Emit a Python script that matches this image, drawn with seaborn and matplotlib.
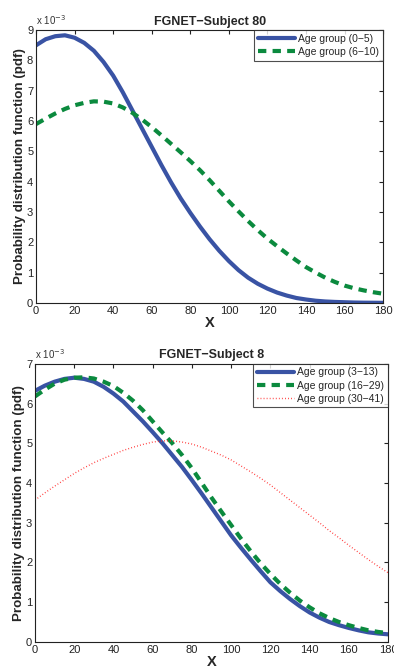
import numpy as np
import pandas as pd
import matplotlib
matplotlib.use('Agg')
import matplotlib.pyplot as plt
import seaborn as sns

x_vals = list(range(0, 181, 5))

# FGNET - Subject 80
s80_age_0_5 = [8.5, 8.7, 8.8, 8.83, 8.75, 8.58, 8.32, 7.95, 7.5, 6.95,
               6.35, 5.75, 5.15, 4.55, 3.98, 3.45, 2.97, 2.52, 2.1, 1.72,
               1.38, 1.08, 0.83, 0.63, 0.47, 0.34, 0.24, 0.16, 0.11, 0.07,
               0.045, 0.03, 0.02, 0.01, 0.005, 0.003, 0.0]
s80_age_6_10 = [5.9, 6.08, 6.25, 6.4, 6.52, 6.6, 6.65, 6.64, 6.58, 6.45,
                6.27, 6.05, 5.8, 5.53, 5.25, 4.97, 4.68, 4.38, 4.05, 3.7,
                3.35, 3.02, 2.7, 2.4, 2.12, 1.87, 1.63, 1.4, 1.18, 1.0,
                0.83, 0.69, 0.57, 0.48, 0.41, 0.35, 0.3]
s80_labels = ['Age group (0\u22125)', 'Age group (6\u221210)']

# FGNET - Subject 8
s8_age_3_13 = [6.32, 6.45, 6.55, 6.62, 6.65, 6.62, 6.55, 6.42, 6.25, 6.05,
               5.8, 5.55, 5.28, 5.0, 4.7, 4.4, 4.07, 3.73, 3.38, 3.03,
               2.68, 2.37, 2.07, 1.78, 1.5, 1.28, 1.08, 0.9, 0.74, 0.61,
               0.5, 0.42, 0.35, 0.29, 0.24, 0.21, 0.19]
s8_age_16_29 = [6.18, 6.35, 6.5, 6.6, 6.65, 6.66, 6.63, 6.55, 6.44, 6.27,
                6.07, 5.83, 5.55, 5.27, 5.0, 4.7, 4.37, 4.0, 3.63, 3.28,
                2.94, 2.6, 2.28, 1.98, 1.71, 1.46, 1.24, 1.04, 0.87, 0.72,
                0.6, 0.5, 0.42, 0.35, 0.29, 0.25, 0.22]
s8_age_30_41 = [3.57, 3.75, 3.92, 4.08, 4.24, 4.38, 4.51, 4.62, 4.72, 4.82,
                4.9, 4.97, 5.03, 5.06, 5.06, 5.03, 4.98, 4.9, 4.8, 4.7,
                4.58, 4.43, 4.28, 4.12, 3.95, 3.76, 3.57, 3.38, 3.19, 3.0,
                2.8, 2.62, 2.43, 2.25, 2.07, 1.9, 1.74]
s8_labels = ['Age group (3\u221213)', 'Age group (16\u221229)', 'Age group (30\u221241)']

blue = '#3953a4'
green = '#0b8a3e'
red = '#ff3030'

sns.set_style('white')
plt.rcParams['font.family'] = ['Liberation Sans', 'DejaVu Sans']


def style_axes(ax, ymax, title):
    ax.set_xlim(0, 180)
    ax.set_ylim(0, ymax)
    ax.set_xticks(range(0, 181, 20))
    ax.set_yticks(range(0, ymax + 1))
    ax.tick_params(direction='in', top=True, right=True, length=3,
                   labelsize=8, colors='#222222', pad=2)
    for sp in ax.spines.values():
        sp.set_color('#222222')
        sp.set_linewidth(0.8)
    ax.set_title(title, fontsize=9, fontweight='bold', pad=4)
    ax.set_xlabel('X', fontsize=10.5, fontweight='bold', labelpad=0)
    ax.set_ylabel('Probability distribution function (pdf)', fontsize=9.6,
                  fontweight='bold', labelpad=1)
    ax.text(0.0, 1.01, 'x 10$^{-3}$', transform=ax.transAxes, fontsize=7,
            color='#333333', ha='left', va='bottom')
    leg = ax.legend(loc='upper right', fontsize=7.5, frameon=True, fancybox=False,
                    borderaxespad=0, handlelength=3.6, handletextpad=0.3,
                    labelspacing=0.3, borderpad=0.35)
    leg.get_frame().set_edgecolor('#222222')
    leg.get_frame().set_linewidth(0.8)


fig = plt.figure(figsize=(3.94, 6.7), dpi=100)
ax1 = fig.add_axes([0.0914, 0.548, 0.881, 0.407])
ax2 = fig.add_axes([0.0889, 0.042, 0.896, 0.415])

# top panel
sns.lineplot(x=x_vals, y=s80_age_0_5, ax=ax1, color=blue, lw=3, label=s80_labels[0])
sns.lineplot(x=x_vals, y=s80_age_6_10, ax=ax1, color=green, lw=3, label=s80_labels[1])
ax1.lines[1].set_dashes([2, 1.5])
style_axes(ax1, 9, 'FGNET\u2212Subject 80')

# bottom panel
sns.lineplot(x=x_vals, y=s8_age_3_13, ax=ax2, color=blue, lw=3, label=s8_labels[0])
sns.lineplot(x=x_vals, y=s8_age_16_29, ax=ax2, color=green, lw=3, label=s8_labels[1])
sns.lineplot(x=x_vals, y=s8_age_30_41, ax=ax2, color=red, lw=1, label=s8_labels[2])
ax2.lines[1].set_dashes([2, 1.5])
ax2.lines[2].set_dashes([0.6, 1.6])
style_axes(ax2, 7, 'FGNET\u2212Subject 8')

fig.savefig('out.png', dpi=100)
